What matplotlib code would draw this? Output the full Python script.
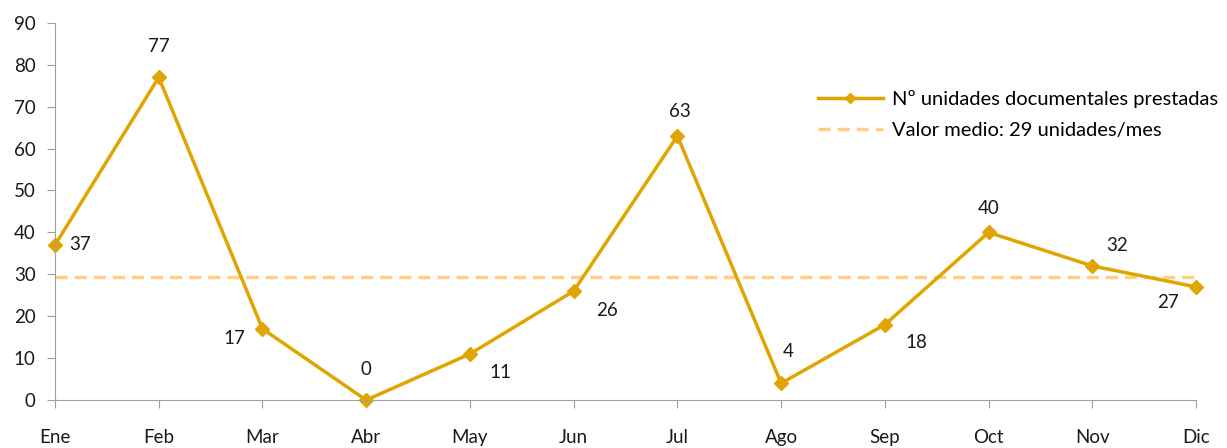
import numpy as np
import matplotlib
matplotlib.use('Agg')
from matplotlib import pyplot as plt

meses = ['Ene', 'Feb', 'Mar', 'Abr', 'May', 'Jun', 'Jul', 'Ago', 'Sep', 'Oct', 'Nov', 'Dic']
prestadas = [37, 77, 17, 0, 11, 26, 63, 4, 18, 40, 32, 27]
media = 29.33
# label offsets in points (dx, dy) for each value
offsets = [(18, 0), (0, 22), (-20, -7), (0, 22), (22, -13), (24, -14),
           (2, 18), (5, 23), (23, -13), (0, 17), (18, 15), (-20, -11)]

plt.rcParams['font.family'] = ['Lato', 'DejaVu Sans']

fig = plt.figure(figsize=(12.27, 4.48), dpi=100)
ax = fig.add_axes([0.0448, 0.107, 0.93, 0.842])

x = np.arange(len(meses))
ax.axhline(media, color='#FFCF86', lw=2.5, ls=(0, (3.5, 2)), zorder=1,
           label='Valor medio: 29 unidades/mes')
ax.plot(x, prestadas, color='#E0A500', lw=2.5, marker='D', ms=7.5,
        zorder=2, clip_on=False, label='Nº unidades documentales prestadas')

for xi, v, (dx, dy) in zip(x, prestadas, offsets):
    ax.annotate(str(v), (xi, v), xytext=(dx, dy), textcoords='offset points',
                ha='center', va='center', fontsize=13.5, color='#1a1a1a')

ax.set_xlim(0, 11)
ax.set_ylim(0, 90)
ax.set_yticks(range(0, 91, 10))
ax.set_xticks(x)
ax.set_xticklabels(meses)
for s in ['top', 'right']:
    ax.spines[s].set_visible(False)
for s in ['left', 'bottom']:
    ax.spines[s].set_color('#a0a0a0')
ax.tick_params(axis='y', colors='#a0a0a0', labelcolor='#1a1a1a', labelsize=13.5,
               length=6, pad=8)
ax.tick_params(axis='x', colors='#a0a0a0', labelcolor='#1a1a1a', labelsize=13.5,
               length=6, pad=15)

handles, labels = ax.get_legend_handles_labels()
ax.legend(handles[::-1], labels[::-1], loc='upper left', bbox_to_anchor=(0.652, 0.84),
          bbox_transform=fig.transFigure, frameon=False, fontsize=14.5,
          handlelength=3.2, handletextpad=0.45, labelspacing=0.7, markerscale=0.7)

fig.savefig('out.png', dpi=100)
